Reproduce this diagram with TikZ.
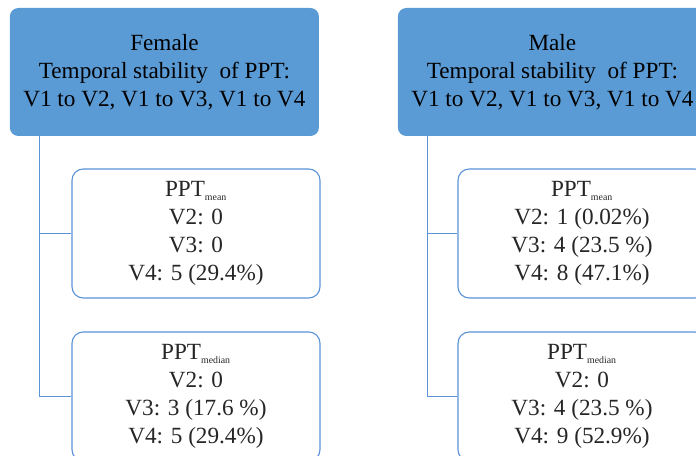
\documentclass[tikz,border=0pt]{standalone}
\usepackage{fontspec}
\setmainfont{Liberation Serif}
\definecolor{hdrblue}{HTML}{5B9BD5}
\definecolor{edgeblue}{HTML}{5B93D8}
\begin{document}
\begin{tikzpicture}[
    header/.style={fill=hdrblue, rounded corners=6pt, minimum width=7.725cm,
      minimum height=3.2cm, align=center, inner sep=2pt,
      font=\fontsize{16.5}{19.8}\selectfont, text=black},
    stats/.style={draw=edgeblue, line width=0.8pt, fill=white, rounded corners=8pt,
      minimum width=6.2cm, minimum height=3.225cm, align=center, inner sep=2pt,
      font=\fontsize{16.5}{19.8}\selectfont, text=black!85},
    link/.style={draw=edgeblue, line width=0.9pt},
  ]
    \useasboundingbox (0,0) rectangle (17.4,11.4);

    % Female
    \node[header] (fhead) at (4.11, 9.6)
      {Female\\Temporal stability\ \ of PPT:\\V1 to V2, V1 to V3, V1 to V4};
    \node[stats] (fmean) at (4.9, 5.5625)
      {PPT\textsubscript{\scriptsize mean}\\V2: 0\\V3: 0\\V4: 5 (29.4\%)};
    \node[stats] (fmedian) at (4.9, 1.4875)
      {PPT\textsubscript{\scriptsize median}\\V2: 0\\V3: 3 (17.6 \%)\\V4: 5 (29.4\%)};

    \draw[link] ([xshift=0.75cm]fhead.south west) |- (fmean.west);
    \draw[link] ([xshift=0.75cm]fhead.south west) |- (fmedian.west);

    % Male
    \node[header] (mhead) at (13.81, 9.6)
      {Male\\Temporal stability\ \ of PPT:\\V1 to V2, V1 to V3, V1 to V4};
    \node[stats] (mmean) at (14.55, 5.5625)
      {PPT\textsubscript{\scriptsize mean}\\V2: 1 (0.02\%)\\V3: 4 (23.5 \%)\\V4: 8 (47.1\%)};
    \node[stats] (mmedian) at (14.55, 1.4875)
      {PPT\textsubscript{\scriptsize median}\\V2: 0\\V3: 4 (23.5 \%)\\V4: 9 (52.9\%)};

    \draw[link] ([xshift=0.75cm]mhead.south west) |- (mmean.west);
    \draw[link] ([xshift=0.75cm]mhead.south west) |- (mmedian.west);
\end{tikzpicture}
\end{document}
